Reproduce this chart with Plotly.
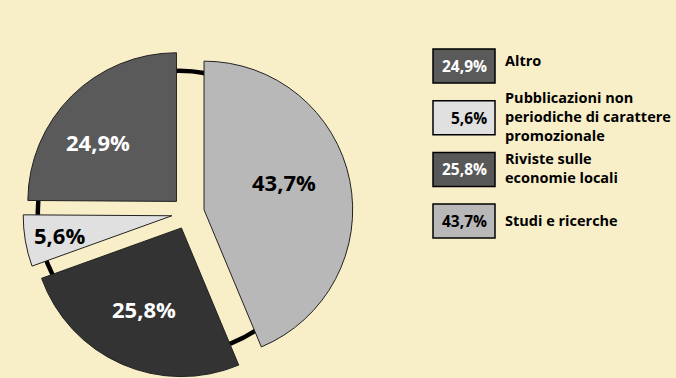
import math
import plotly.graph_objects as go

# --- data -------------------------------------------------------------
categories = [
    "Altro",
    "Pubblicazioni non<br>periodiche di carattere<br>promozionale",
    "Riviste sulle<br>economie locali",
    "Studi e ricerche",
]
shares = [24.9, 5.6, 25.8, 43.7]
pct_labels = [f"{v:.1f}".replace(".", ",") + "%" for v in shares]

# --- style ------------------------------------------------------------
slice_colors = ["#5a5a5a", "#e0e0e0", "#333333", "#b8b8b8"]
swatch_colors = ["#5a5a5a", "#e0e0e0", "#585858", "#b8b8b8"]
text_colors = ["white", "black", "white", "black"]
label_radius = [0.66, 0.77, 0.60, 0.57]   # fraction of pie radius
label_nudge = [-8, 0, 1, -8]              # degrees
BG = "#f8eec8"
FONT = "Open Sans"
W, H = 676, 378
PULL = 0.11
dom_x = [23 / W, 353 / W]
dom_y = [0, 1 - 48 / H]

# the pie runs clockwise from 12 o'clock in reverse legend order
order = list(range(len(shares)))[::-1]

fig = go.Figure(
    go.Pie(
        labels=[categories[i].replace("<br>", " ") for i in order],
        values=[shares[i] for i in order],
        sort=False,
        direction="clockwise",
        rotation=0,
        pull=PULL,
        marker=dict(colors=[slice_colors[i] for i in order],
                    line=dict(color="#222222", width=1)),
        textinfo="none",
        hoverinfo="label+percent",
        showlegend=False,
        domain=dict(x=dom_x, y=dom_y),
    )
)

# pie geometry in pixels (plotly shrinks the radius to leave room for the pull)
side = min((dom_x[1] - dom_x[0]) * W, (dom_y[1] - dom_y[0]) * H)
r = side / 2 / (1 + PULL)
cx = (dom_x[0] + dom_x[1]) / 2 * W
cy = H - (dom_y[0] + dom_y[1]) / 2 * H

def to_paper(px, py):
    return px / W, 1 - py / H

# black ring behind the exploded slices
ring_r = 0.95 * r
ring_cx, ring_cy = cx - 9, cy - 1
x0, y1 = to_paper(ring_cx - ring_r, ring_cy - ring_r)
x1, y0 = to_paper(ring_cx + ring_r, ring_cy + ring_r)
fig.add_shape(type="circle", xref="paper", yref="paper", x0=x0, x1=x1, y0=y0, y1=y1,
              line=dict(color="black", width=4.5), layer="below")

# percentage labels inside the slices
total = sum(shares)
cum = 0.0
mids = {}
for i in order:
    mids[i] = (cum + shares[i] / 2) / total
    cum += shares[i]
for i in range(len(shares)):
    ang = math.radians(mids[i] * 360)             # clockwise from 12 o'clock
    sx = cx + PULL * r * math.sin(ang)
    sy = cy - PULL * r * math.cos(ang)
    la = ang + math.radians(label_nudge[i])
    px = sx + label_radius[i] * r * math.sin(la)
    py = sy - label_radius[i] * r * math.cos(la)
    ax, ay = to_paper(px, py)
    fig.add_annotation(x=ax, y=ay, xref="paper", yref="paper", text=f"<b>{pct_labels[i]}</b>",
                       showarrow=False, xanchor="center", yanchor="middle",
                       font=dict(family=FONT, size=22, color=text_colors[i]))

# legend: boxes holding the percentages, with the category names beside them
box_left, box_right, box_h, box_top0, box_step = 433, 495, 34, 49, 51.7
label_anchor = ["top", "middle", "middle", "middle"]
for i, cat in enumerate(categories):
    top = box_top0 + i * box_step
    bx0, by1 = to_paper(box_left, top)
    bx1, by0 = to_paper(box_right, top + box_h)
    fig.add_shape(type="rect", xref="paper", yref="paper", x0=bx0, x1=bx1, y0=by0, y1=by1,
                  fillcolor=swatch_colors[i], line=dict(color="black", width=1.5))
    tx, ty = to_paper(box_right - 6, top + box_h / 2)
    fig.add_annotation(x=tx, y=ty, xref="paper", yref="paper", text=f"<b>{pct_labels[i]}</b>",
                       showarrow=False, xanchor="right", yanchor="middle",
                       font=dict(family=FONT, size=15.5, color=text_colors[i]))
    if label_anchor[i] == "top":
        lx, ly = to_paper(box_right + 8, top)
    else:
        lx, ly = to_paper(box_right + 8, top + box_h / 2 - 1)
    fig.add_annotation(x=lx, y=ly, xref="paper", yref="paper", text=f"<b>{cat}</b>",
                       showarrow=False, xanchor="left", yanchor=label_anchor[i], align="left",
                       font=dict(family=FONT, size=14.5, color="black"))

fig.update_layout(
    width=W, height=H,
    margin=dict(l=0, r=0, t=0, b=0),
    paper_bgcolor=BG, plot_bgcolor=BG,
)

fig.write_html("out.html")
